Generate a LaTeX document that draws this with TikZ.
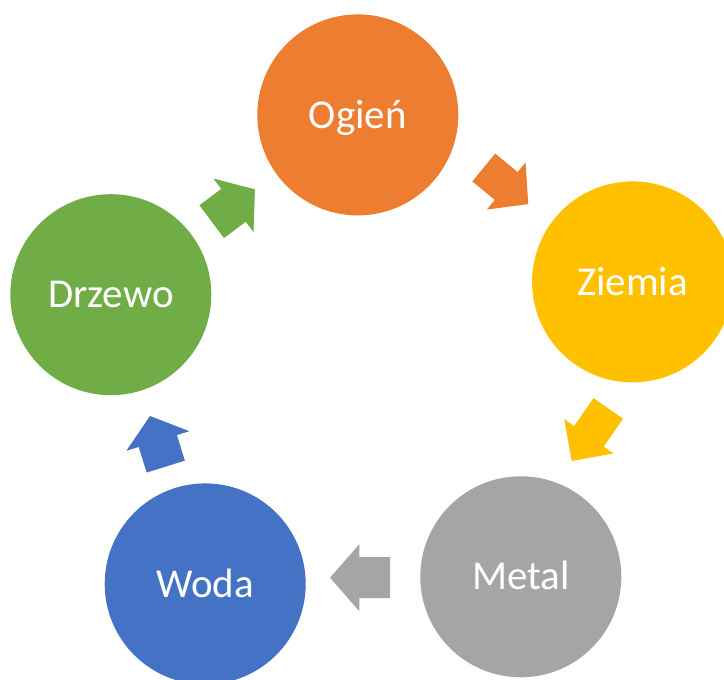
\documentclass[tikz,border=0pt]{standalone}
\usepackage{fontspec}
\setmainfont{Carlito}
\definecolor{cOrange}{HTML}{ED7D31}
\definecolor{cYellow}{HTML}{FFC000}
\definecolor{cGray}{HTML}{A5A5A5}
\definecolor{cBlue}{HTML}{4472C4}
\definecolor{cGreen}{HTML}{70AD47}
\begin{document}
\begin{tikzpicture}[x=1pt,y=1pt,
  elem/.style={circle, minimum size=201pt, inner sep=0pt, text=white,
    font=\fontsize{41}{41}\selectfont, text height=26.4pt, text depth=0pt},
  pics/blockarrow/.style n args={5}{code={
    \fill[#5] (-#1/2,#3/2) -- (#1/2-#2,#3/2) -- (#1/2-#2,#4/2) -- (#1/2,0)
      -- (#1/2-#2,-#4/2) -- (#1/2-#2,-#3/2) -- (-#1/2,-#3/2) -- cycle;}}]
\path[use as bounding box, clip] (0,0) rectangle (724,680);
\node[elem, fill=cOrange] (ogien) at (357.8,565.1) {Ogień};
\node[elem, fill=cYellow] (ziemia) at (632.6,398.1) {Ziemia};
\node[elem, fill=cGray] (metal) at (520.8,103.2) {Metal};
\node[elem, fill=cBlue] (woda) at (205.2,96.1) {Woda};
\node[elem, fill=cGreen] (drzewo) at (110.8,385.3) {Drzewo};
\pic[rotate=-39.4] at (506,494.2) {blockarrow={57.6}{28.5}{36}{61}{cOrange}};
\pic[rotate=235.2] at (590,245.3) {blockarrow={64}{30}{36}{60}{cYellow}};
\pic[rotate=180] at (360,102.3) {blockarrow={60}{29.3}{41}{67}{cGray}};
\pic[rotate=107.3] at (157.9,238.7) {blockarrow={53}{26.2}{40}{66}{cBlue}};
\pic[rotate=36.8] at (233.3,474.5) {blockarrow={54}{26.8}{41}{67}{cGreen}};
\end{tikzpicture}
\end{document}
